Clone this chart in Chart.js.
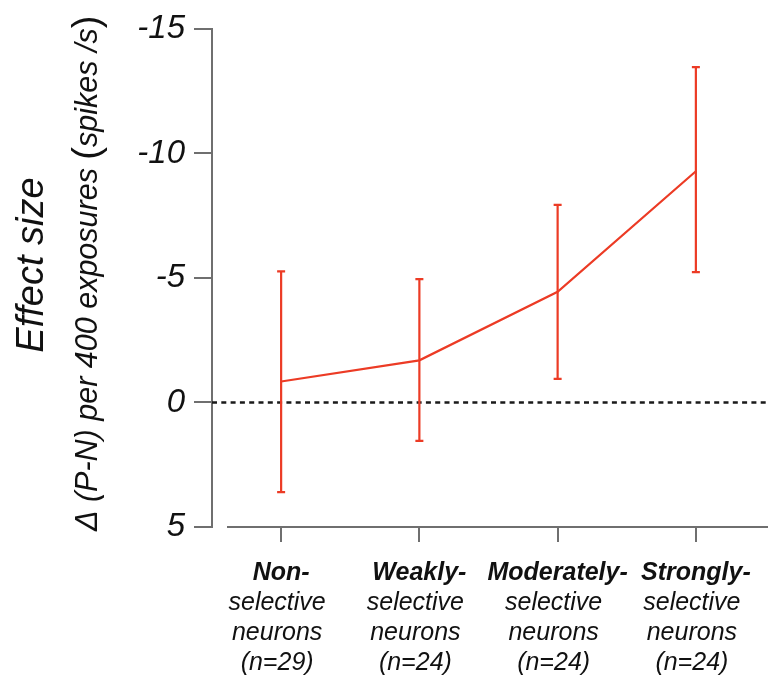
<!DOCTYPE html>
<html>
<head>
<meta charset="utf-8">
<script src="https://cdn.jsdelivr.net/npm/chart.js@4.4.0/dist/chart.umd.min.js"></script>
<style>
    html, body { margin: 0; padding: 0; background: #ffffff; }
    #caixa { width: 778px; height: 679px; }
</style>
</head>
<body>
<div id="caixa"><canvas id="graficoEfeito"></canvas></div>
<script>

const categorias = ['Non-', 'Weakly-', 'Moderately-', 'Strongly-'];

const descricoes = [
    ['selective', 'neurons', '(n=29)'],
    ['selective', 'neurons', '(n=24)'],
    ['selective', 'neurons', '(n=24)'],
    ['selective', 'neurons', '(n=24)']
];

const medias = [-0.84, -1.69, -4.44, -9.28];

// extremo de cima (mais negativo) e de baixo de cada barra de erro
const erroCima = [-5.26, -4.95, -7.93, -13.46];
const erroBaixo = [3.6, 1.54, -0.95, -5.23];

const ticksY = [-15, -10, -5, 0, 5];

const tituloY = 'Effect size';
const subtituloY = ['\u0394 (P-N) per 400 exposures ', '(', 'spikes /s', ')'];

document.addEventListener('DOMContentLoaded', function () {

    const vermelho = '#ec3b25';
    const cinza = '#6f6f6f';
    const fonte = '"Liberation Sans", Arial, sans-serif';

    const contexto = document.getElementById('graficoEfeito').getContext('2d');

    const desenhosExtras = {
        id: 'desenhosExtras',

        beforeDatasetsDraw(chart) {
            const ctx = chart.ctx;
            const x = chart.scales.x;
            const y = chart.scales.y;
            const area = chart.chartArea;

            ctx.save();

            // linha do zero tracejada
            ctx.strokeStyle = '#1a1a1a';
            ctx.lineWidth = 2.4;
            ctx.setLineDash([5, 4.3]);
            ctx.beginPath();
            ctx.moveTo(area.left, y.getPixelForValue(0));
            ctx.lineTo(area.right + 3, y.getPixelForValue(0));
            ctx.stroke();
            ctx.setLineDash([]);

            // eixo x separado do eixo y
            ctx.strokeStyle = cinza;
            ctx.lineWidth = 2;
            ctx.beginPath();
            ctx.moveTo(area.left + 15, area.bottom);
            ctx.lineTo(area.right + 3, area.bottom);
            ctx.stroke();

            // barras de erro
            ctx.strokeStyle = vermelho;
            ctx.lineWidth = 2.2;
            medias.forEach((m, i) => {
                const px = x.getPixelForValue(i);
                const topo = y.getPixelForValue(erroCima[i]);
                const base = y.getPixelForValue(erroBaixo[i]);
                ctx.beginPath();
                ctx.moveTo(px, topo);
                ctx.lineTo(px, base);
                ctx.moveTo(px - 4, topo);
                ctx.lineTo(px + 4, topo);
                ctx.moveTo(px - 4, base);
                ctx.lineTo(px + 4, base);
                ctx.stroke();
            });

            ctx.restore();
        },

        afterDraw(chart) {
            const ctx = chart.ctx;
            const x = chart.scales.x;

            ctx.save();
            ctx.fillStyle = '#111111';
            ctx.textAlign = 'center';
            ctx.textBaseline = 'alphabetic';

            // rotulos das categorias
            categorias.forEach((nome, i) => {
                const px = x.getPixelForValue(i);
                ctx.font = 'italic bold 25px ' + fonte;
                ctx.fillText(nome, px, 580);
                ctx.font = 'italic 25px ' + fonte;
                descricoes[i].forEach((linha, j) => {
                    ctx.fillText(linha, px - 4, 610 + j * 30);
                });
            });

            // titulo do eixo y
            ctx.save();
            ctx.translate(43, 265);
            ctx.rotate(-Math.PI / 2);
            ctx.font = 'italic 38px ' + fonte;
            ctx.fillText(tituloY, 0, 0);
            ctx.restore();

            // subtitulo com parenteses maiores
            ctx.save();
            ctx.translate(97, 531);
            ctx.rotate(-Math.PI / 2);
            ctx.textAlign = 'left';
            let pos = 0;
            subtituloY.forEach(parte => {
                const paren = parte === '(' || parte === ')';
                ctx.font = paren ? '38px ' + fonte : 'italic 30.5px ' + fonte;
                ctx.fillText(parte, pos, paren ? 2 : 0);
                pos += ctx.measureText(parte).width;
            });
            ctx.restore();

            ctx.restore();
        }
    };

    new Chart(contexto, {

        type: 'line',

        data: {
            labels: categorias,
            datasets: [{
                data: medias,
                borderColor: vermelho,
                borderWidth: 2.2,
                pointRadius: 0,
                tension: 0,
                fill: false
            }]
        },

        options: {
            responsive: true,
            maintainAspectRatio: false,
            animation: false,
            layout: {
                padding: { top: 24, right: 13, left: 0, bottom: 0 }
            },
            plugins: {
                legend: { display: false },
                tooltip: { enabled: false }
            },
            scales: {
                x: {
                    offset: true,
                    border: { display: false },
                    grid: {
                        drawOnChartArea: false,
                        drawTicks: true,
                        tickLength: 15,
                        lineWidth: 2,
                        color: cinza
                    },
                    ticks: { display: false },
                    afterFit: s => { s.height = 152; }
                },
                y: {
                    reverse: true,
                    min: -15,
                    max: 5,
                    border: { display: true, color: cinza, width: 2 },
                    grid: {
                        drawOnChartArea: false,
                        drawTicks: true,
                        tickLength: 18,
                        lineWidth: 2,
                        color: cinza
                    },
                    ticks: {
                        padding: 9,
                        color: '#111111',
                        font: { family: fonte, size: 33, style: 'italic' }
                    },
                    afterBuildTicks: s => { s.ticks = ticksY.map(v => ({ value: v })); },
                    afterFit: s => { s.width = 212; }
                }
            }
        },

        plugins: [desenhosExtras]

    });

});
</script>
</body>
</html>
